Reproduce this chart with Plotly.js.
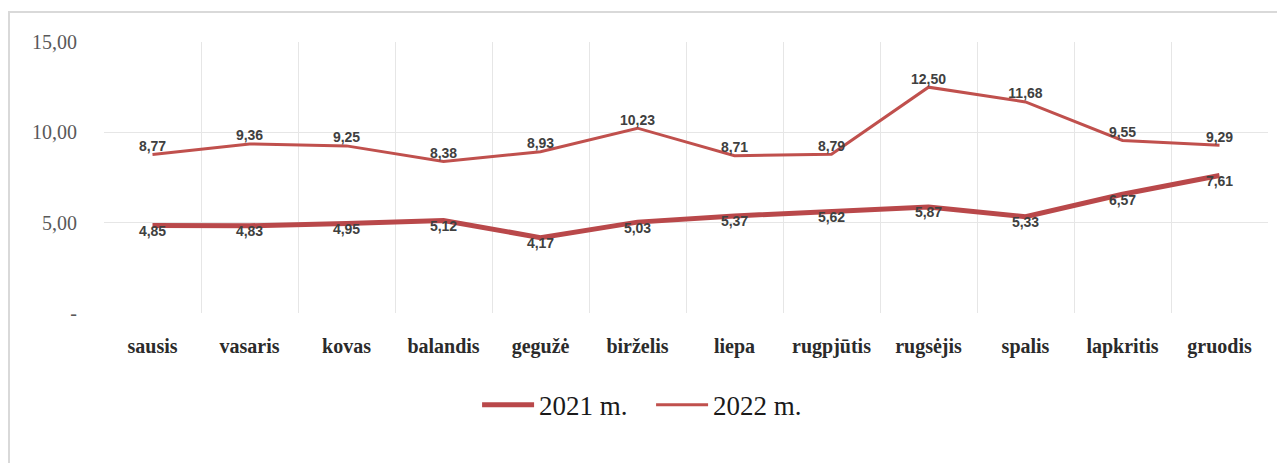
<!DOCTYPE html>
<html>
<head>
<meta charset="utf-8">
<script src="https://cdn.plot.ly/plotly-3.0.1.min.js"></script>
<style>
html,body{margin:0;padding:0;background:#fff;}
#wrap{position:relative;width:1277px;height:463px;overflow:hidden;}
#chart{position:absolute;left:0;top:0;width:1277px;height:463px;}
#frame{position:absolute;left:8px;top:11px;width:1300px;height:500px;border-left:2px solid #d9d9d9;border-top:2px solid #d9d9d9;pointer-events:none;}
</style>
</head>
<body>
<div id="wrap"><div id="chart"></div><div id="frame"></div></div>
<script>
const months = ['sausis','vasaris','kovas','balandis','gegužė','birželis','liepa','rugpjūtis','rugsėjis','spalis','lapkritis','gruodis'];
const values2021 = [4.85,4.83,4.95,5.12,4.17,5.03,5.37,5.62,5.87,5.33,6.57,7.61];
const values2022 = [8.77,9.36,9.25,8.38,8.93,10.23,8.71,8.79,12.50,11.68,9.55,9.29];
const yTickVals = [0,5,10,15];
const yTickText = ['-','5,00','10,00','15,00'];

const fmt = v => v.toFixed(2).replace('.', ',');
const labelFont = {family:'Liberation Sans, Arial, sans-serif', size:14, color:'#404040', weight:'bold'};

const traces = [
  {x: months, y: values2021, name: '2021 m.', type:'scatter', mode:'lines+text',
   line:{color:'#B9484A', width:5}, text: values2021.map(fmt), textposition:'bottom center',
   textfont: labelFont, cliponaxis:false},
  {x: months, y: values2022, name: '2022 m.', type:'scatter', mode:'lines+text',
   line:{color:'#C0504D', width:3}, text: values2022.map(fmt), textposition:'top center',
   textfont: labelFont, cliponaxis:false}
];

const layout = {
  width:1277, height:463,
  margin:{l:104, r:9, t:42, b:150},
  paper_bgcolor:'#ffffff', plot_bgcolor:'#ffffff',
  showlegend:true,
  legend:{orientation:'h', x:0.470, xanchor:'center', y:-0.25, yanchor:'top',
    font:{family:'Liberation Serif, Times New Roman, serif', size:27, color:'#1a1a1a'},
    itemwidth:52, entrywidth:107, traceorder:'normal'},
  xaxis:{type:'category', tickson:'boundaries', showgrid:true, gridcolor:'#e6e6e6', gridwidth:1,
    showline:false, zeroline:false, ticks:'', range:[-0.5,11.5], ticklabelstandoff:19,
    tickfont:{family:'Liberation Serif, Times New Roman, serif', size:20, color:'#2b2b2b', weight:'bold'}},
  yaxis:{range:[0,15], tickvals:yTickVals, ticktext:yTickText, showgrid:true, gridcolor:'#e6e6e6',
    gridwidth:1, zeroline:false, showline:false, ticks:'', ticklabelstandoff:26,
    tickfont:{family:'Liberation Serif, Times New Roman, serif', size:20, color:'#595959'}},
  font:{family:'Liberation Serif, serif'}
};

Plotly.newPlot('chart', traces, layout, {displayModeBar:false, staticPlot:true});
</script>
</body>
</html>
